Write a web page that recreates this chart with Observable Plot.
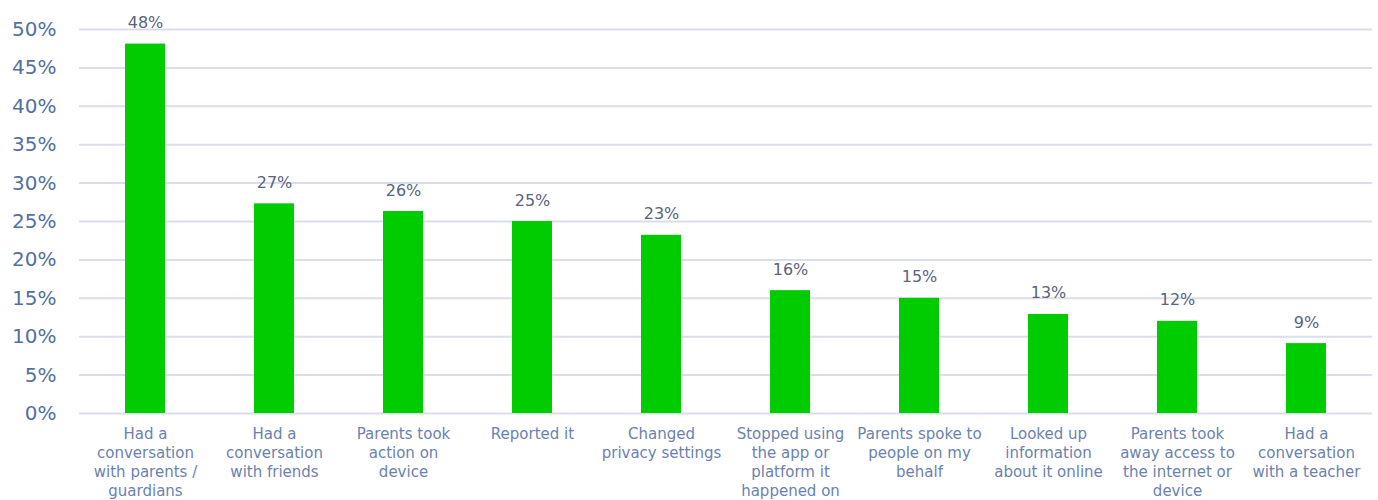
<!DOCTYPE html>
<html>
<head>
<meta charset="utf-8">
<script src="https://cdn.jsdelivr.net/npm/d3@7"></script>
<script src="https://cdn.jsdelivr.net/npm/@observablehq/plot@0.6"></script>
<style>
  html, body { margin: 0; padding: 0; background: #fff; }
  #chart svg { display: block; }
</style>
</head>
<body>
<div id="chart"></div>
<script>
const categories = [
  "Had a\nconversation\nwith parents /\nguardians",
  "Had a\nconversation\nwith friends",
  "Parents took\naction on\ndevice",
  "Reported it",
  "Changed\nprivacy settings",
  "Stopped using\nthe app or\nplatform it\nhappened on",
  "Parents spoke to\npeople on my\nbehalf",
  "Looked up\ninformation\nabout it online",
  "Parents took\naway access to\nthe internet or\ndevice",
  "Had a\nconversation\nwith a teacher"
];
const values = [0.481, 0.273, 0.263, 0.250, 0.232, 0.160, 0.150, 0.129, 0.120, 0.091];
const valueLabels = ["48%", "27%", "26%", "25%", "23%", "16%", "15%", "13%", "12%", "9%"];
const yTicks = [0, 0.05, 0.10, 0.15, 0.20, 0.25, 0.30, 0.35, 0.40, 0.45, 0.50];

const data = categories.map((c, i) => ({category: c, value: values[i], label: valueLabels[i]}));

const font = "'DejaVu Sans', sans-serif";

const chart = Plot.plot({
  width: 1378,
  height: 500,
  marginLeft: 79,
  marginRight: 6,
  marginTop: 29,
  marginBottom: 87,
  style: {fontFamily: font, background: "#fff", overflow: "visible"},
  x: {domain: categories, paddingInner: 0.69, paddingOuter: 0.345, label: null},
  y: {domain: [0, 0.5], label: null},
  marks: [
    Plot.gridY(yTicks, {stroke: "#d9dee9", strokeOpacity: 1, strokeWidth: 2}),
    Plot.axisY({ticks: yTicks, tickFormat: d3.format(".0%"), tickSize: 0, tickPadding: 23, fontSize: 20, fill: "#5470a0", label: null}),
    Plot.axisX({tickSize: 0, tickPadding: 12, fontSize: 15, fill: "#6b82b0", lineHeight: 1.27, label: null}),
    Plot.barY(data, {x: "category", y: "value", fill: "#00cc00"}),
    Plot.text(data, {x: "category", y: "value", text: "label", lineAnchor: "bottom", dy: -16, fontSize: 16, fill: "#59647d"})
  ]
});
document.getElementById("chart").appendChild(chart);
</script>
</body>
</html>
